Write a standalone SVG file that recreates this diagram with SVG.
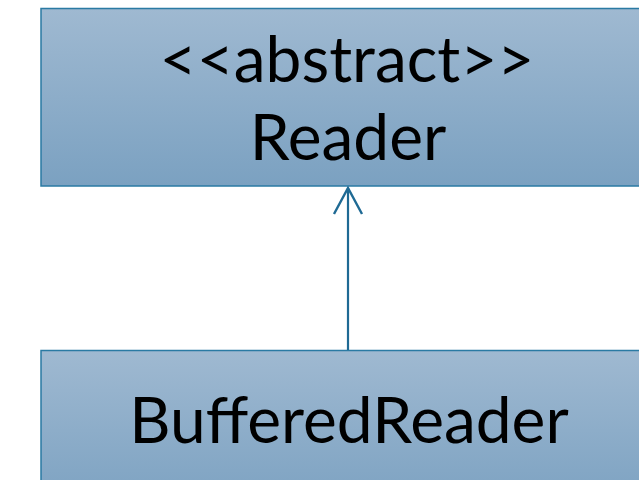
<svg xmlns="http://www.w3.org/2000/svg" width="639" height="480" viewBox="0 0 639 480">
  <defs>
    <linearGradient id="boxFill" x1="0" y1="0" x2="0" y2="1">
      <stop offset="0" stop-color="#9fb9d1"/>
      <stop offset="1" stop-color="#7ba1c1"/>
    </linearGradient>
    <marker id="openArrow" markerWidth="32" markerHeight="32" refX="30" refY="16" orient="auto" markerUnits="userSpaceOnUse" viewBox="0 0 32 32">
      <path d="M4 2 L30 16 L4 30" fill="none" stroke="#1f6a94" stroke-width="2.4"/>
    </marker>
  </defs>
  <style>
    .box { fill: url(#boxFill); stroke: #2a7aa3; stroke-width: 1.5; }
    .label { font-family: Lato, "Open Sans", sans-serif; font-size: 64px; fill: #000; text-anchor: middle; }
    .edge { stroke: #1f6a94; stroke-width: 2.2; fill: none; }
  </style>
  <g id="reader">
    <rect class="box" x="41" y="8.5" width="620" height="177.5"/>
    <text class="label" x="347" y="82">&lt;&lt;abstract&gt;&gt;</text>
    <text class="label" x="348" y="160">Reader</text>
  </g>
  <g id="bufferedReader">
    <rect class="box" x="41" y="350.5" width="620" height="160"/>
    <text class="label" x="349" y="443" font-size="65">BufferedReader</text>
  </g>
  <g id="connectors">
    <path class="edge" d="M348 350 L348 188" marker-end="url(#openArrow)"/>
  </g>
</svg>
